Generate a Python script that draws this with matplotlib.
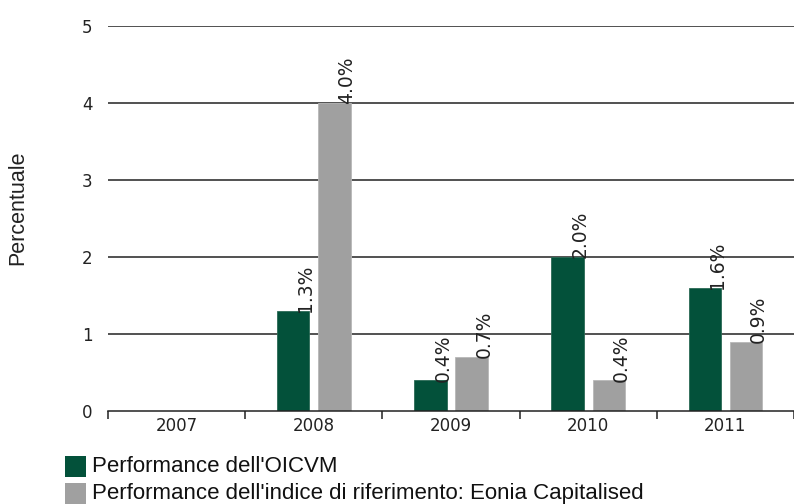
import matplotlib
matplotlib.use("Agg")
import matplotlib.pyplot as plt
from matplotlib.patches import Rectangle
import numpy as np

years = ["2007", "2008", "2009", "2010", "2011"]
oicvm = [np.nan, 1.3, 0.4, 2.0, 1.6]
benchmark = [np.nan, 4.0, 0.7, 0.4, 0.9]
series_names = ["Performance dell'OICVM",
                "Performance dell'indice di riferimento: Eonia Capitalised"]
green = "#03513A"
gray = "#A0A0A0"

W, H = 794, 504
fig = plt.figure(figsize=(W / 100, H / 100), dpi=100)
ax = fig.add_axes([108 / W, 1 - 411 / H, (794 - 108) / W, (411 - 26) / H])

x = np.arange(len(years))
bw = 0.235
off = 0.15
b1 = ax.bar(x - off, oicvm, bw, color=green, edgecolor="#2a6a55", linewidth=0.6, zorder=3)
b2 = ax.bar(x + off, benchmark, bw, color=gray, edgecolor="#b8b8b8", linewidth=0.6, zorder=3)

for bars, vals in ((b1, oicvm), (b2, benchmark)):
    for rect, v in zip(bars, vals):
        if np.isnan(v):
            continue
        xr = rect.get_x() + rect.get_width()
        ax.annotate(f"{v:.1f}%", (xr, v), xytext=(-2.5, -1), textcoords="offset points",
                    rotation=90, ha="center", va="bottom", fontsize=13.5,
                    family="DejaVu Sans", color="#222222", zorder=4)

ax.set_xlim(-0.5, 4.5)
ax.set_ylim(0, 5)
ax.set_yticks([0, 1, 2, 3, 4, 5])
ax.set_yticklabels(["0", "1", "2", "3", "4", "5"], fontsize=12, family="DejaVu Sans", color="#222222")
for yv in [1, 2, 3, 4, 5]:
    ax.axhline(yv, color="#222222", linewidth=1.1, zorder=1)
ax.tick_params(axis="y", length=0, pad=11)

ax.set_xticks(x)
ax.set_xticklabels(years, fontsize=12, family="DejaVu Sans", color="#222222")
ax.tick_params(axis="x", length=0, pad=4)
ax.set_xticks(np.arange(-0.5, 5.0, 1.0), minor=True)
ax.tick_params(axis="x", which="minor", length=6, width=1.1, color="#222222", direction="out")

for s in ["top", "right", "left"]:
    ax.spines[s].set_visible(False)
ax.spines["bottom"].set_color("#222222")
ax.spines["bottom"].set_linewidth(1.1)
ax.spines["bottom"].set_zorder(5)

fig.text(18 / W, 1 - 208 / H, "Percentuale", rotation=90, ha="center", va="center",
         fontsize=15.5, family="Liberation Sans", color="#222222")

# legend
for i, (name, col) in enumerate(zip(series_names, [green, gray])):
    y0 = 456 + i * 27
    fig.add_artist(Rectangle((65 / W, 1 - (y0 + 21) / H), 21 / W, 21 / H,
                             transform=fig.transFigure, facecolor=col, edgecolor="none"))
    fig.text(92 / W, 1 - (y0 + 11) / H, name, ha="left", va="center",
             fontsize=16, family="Liberation Sans", color="#111111")

fig.savefig("out.png", dpi=100)
